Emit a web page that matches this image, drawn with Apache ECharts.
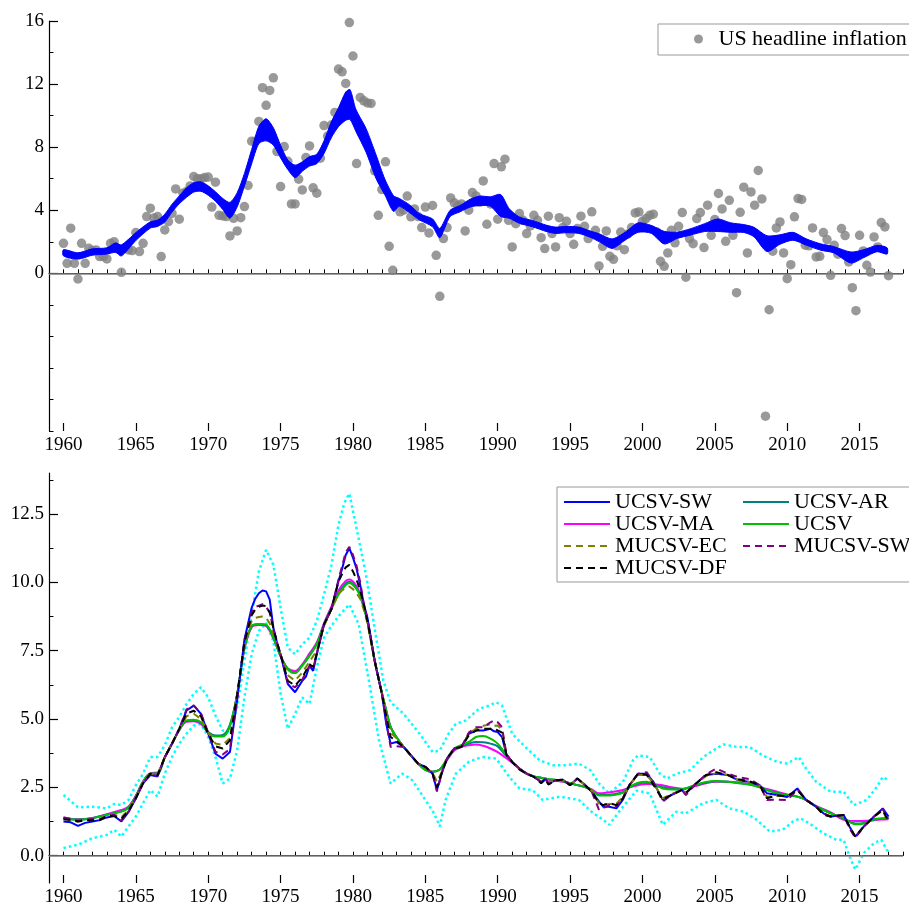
<!DOCTYPE html>
<html><head><meta charset="utf-8">
<script src="https://cdn.jsdelivr.net/npm/echarts@6/dist/echarts.min.js"></script>
<style>html,body{margin:0;padding:0;background:#fff}#c{width:909px;height:909px}</style>
</head><body><div id="c"></div>
<script>
// ---------- DATA ----------
const startYear = 1960; // first quarter of the inflation series
// US headline inflation, quarterly from 1960Q1
const inflation = [
1.9,0.63,2.86,0.63, -0.36,1.9,0.63,1.59, 1.44,1.48,1.06,1.06, 0.91,1.9,2.0,1.55,
0.06,1.59,1.48,1.44, 2.58,1.38,1.9,3.6, 4.13,3.5,3.6,1.06, 2.75,3.28,3.8,5.35,
3.43,5.08,5.18,5.54, 6.14,6.0,6.0,6.07, 6.1,4.2,5.78,3.68, 3.64,3.6,2.37,3.49,
2.69,3.53,4.23,5.57, 8.38,8.38,9.63,11.77, 10.65,11.6,12.4,7.72, 5.5,8.04,7.1,4.4,
4.4,5.97,5.29,7.34, 8.08,5.42,5.08,7.3, 9.37,8.7,9.4,10.2, 12.95,12.78,12.04,15.9,
13.78,6.96,11.15,10.94, 10.8,10.77,6.5,3.68, 5.31,7.07,1.71,0.19, 4.4,3.9,4.0,4.9,
3.58,4.08,3.6,2.9, 4.2,2.56,4.3,1.14, -1.46,2.2,2.9,4.78, 4.47,4.3,4.4,2.69,
4.0,5.12,4.91,4.5, 5.86,3.11,4.4,6.96, 3.43,6.75,7.24,3.36, 1.67,3.15,3.79,3.36,
2.52,3.0,3.68,3.36, 2.26,1.57,3.62,2.52, 1.67,3.53,2.9,3.3, 2.52,1.84,2.84,3.62,
2.98,2.2,3.9,2.73, 0.47,1.71,2.69,1.08, 0.89,1.74,2.62,1.5, 2.5,2.9,3.83,3.89,
3.3,3.47,3.68,3.75, 2.62,0.76,0.44,1.29, 2.73,1.93,2.98,3.85, -0.25,2.2,1.88,3.47,
3.85,1.63,4.32,2.41, 3.41,5.06,4.08,2.03, 4.63,2.41,-1.23,3.87, 5.46,1.29,5.16,4.32,
6.52,4.72,-9.06,-2.31, 1.4,2.88,3.26,1.29, -0.34,0.55,3.58,4.74, 4.68,1.78,1.74,2.88,
1.04,1.08,2.58,2.14, -0.13,1.78,1.21,2.84, 2.39,0.72,-0.91,-2.37, 2.41,1.42,0.51,0.08,
2.31,1.67,3.22,2.94, -0.15
];
// trend band: [year, lower, upper]
const trendBand = [
[1960,1.1,1.5],[1961,0.9,1.3],[1962,1.15,1.55],[1963,1.22,1.62],[1963.6,1.33,1.93],[1964,1.1,1.8],[1965,2.08,2.58],[1966,2.87,3.27],[1966.5,2.97,3.37],[1967,3.25,3.75],[1967.5,3.88,4.38],[1968,4.41,4.91],[1968.5,4.82,5.42],[1969,5.15,5.75],[1969.5,5.2,5.8],[1970,4.95,5.55],[1970.5,4.57,5.17],[1971,4.05,4.75],[1971.5,3.5,4.5],[1972,4.21,5.11],[1972.5,5.53,6.33],[1973,6.95,7.85],[1973.5,8.23,9.33],[1974,8.4,9.8],[1974.5,8.13,9.23],[1975,7.32,8.12],[1975.5,6.58,7.18],[1976,6.06,6.86],[1976.5,6.47,7.07],[1977,6.8,7.4],[1977.5,6.95,7.55],[1978,7.6,8.4],[1978.5,8.6,9.6],[1979,9.3,10.5],[1979.5,9.7,11.5],[1979.8,9.75,11.65],[1980.2,9.0,10.4],[1980.9,7.69,9.19],[1981.6,6.0,7.5],[1982.2,4.98,5.98],[1982.8,3.92,4.92],[1983.2,4.25,4.75],[1983.9,3.85,4.35],[1984.6,3.38,3.78],[1985.5,2.95,3.45],[1986,2.25,2.85],[1986.7,3.59,3.99],[1987.4,3.9,4.3],[1988.1,4.2,4.7],[1988.75,4.3,4.9],[1989.5,4.25,4.85],[1990.2,3.6,5.0],[1990.8,3.49,4.09],[1991.5,3.17,3.57],[1992.4,2.95,3.35],[1993.4,2.64,3.04],[1994,2.53,2.93],[1994.7,2.57,2.97],[1995.6,2.53,2.93],[1996.4,2.28,2.68],[1997,2.01,2.51],[1997.9,1.58,2.18],[1998.8,2.1,2.6],[1999.7,2.6,3.2],[2000.6,2.54,3.04],[2001.5,1.86,2.66],[2002.4,2.21,2.61],[2003.3,2.42,2.82],[2004.3,2.65,3.15],[2005.2,2.65,3.45],[2006.1,2.6,3.2],[2007,2.59,3.09],[2007.7,2.32,2.92],[2008.6,1.38,2.38],[2009.5,1.84,2.44],[2010.4,2.1,2.6],[2011.3,1.79,2.19],[2012.3,1.47,1.87],[2013.2,1.3,1.7],[2014.4,0.65,1.35],[2015.3,1.0,1.5],[2016.2,1.37,1.77],[2016.9,1.22,1.62]
];
const ucsvSW = [[1960,1.25],[1960.5,1.22],[1961,1.09],[1961.5,1.2],[1962,1.25],[1962.5,1.3],[1963,1.4],[1963.5,1.45],[1964,1.25],[1964.5,1.6],[1965,2.1],[1965.5,2.65],[1966,2.95],[1966.5,2.9],[1967,3.6],[1967.5,4.1],[1968,4.64],[1968.5,5.31],[1969,5.49],[1969.5,5.19],[1970,4.46],[1970.5,3.73],[1971,3.55],[1971.5,3.79],[1972,5.7],[1972.5,7.9],[1973,9.07],[1973.25,9.4],[1973.5,9.6],[1973.75,9.7],[1974,9.67],[1974.25,9.37],[1974.5,8.34],[1974.75,7.8],[1975,7.35],[1975.5,6.28],[1976,5.98],[1976.5,6.4],[1976.75,6.55],[1977,6.95],[1977.25,6.76],[1977.5,7.37],[1978,8.46],[1978.5,9.0],[1979,10.04],[1979.25,10.5],[1979.5,11.0],[1979.75,11.25],[1980,10.9],[1980.25,10.5],[1980.5,9.9],[1980.75,9.2],[1981,8.7],[1981.5,7.13],[1982,5.92],[1982.3,4.82],[1982.6,4.1],[1983,4.16],[1983.5,3.98],[1984,3.67],[1984.5,3.37],[1985,3.25],[1985.5,3.0],[1985.8,2.4],[1986.2,3.13],[1986.5,3.55],[1987,3.92],[1987.5,3.98],[1988,4.46],[1988.5,4.58],[1989,4.58],[1989.5,4.64],[1989.75,4.55],[1990,4.52],[1990.3,4.34],[1990.6,3.7],[1991,3.43],[1991.5,3.19],[1992,3.0],[1992.5,2.88],[1993,2.7],[1993.3,2.8],[1993.5,2.65],[1994,2.76],[1994.5,2.78],[1995,2.58],[1995.5,2.82],[1996,2.6],[1996.5,2.34],[1997,1.98],[1997.3,1.79],[1997.7,1.79],[1998.2,1.73],[1998.65,2.05],[1999.1,2.58],[1999.7,3.0],[2000.3,3.0],[2000.75,2.7],[2001.4,2.04],[2002,2.22],[2002.7,2.4],[2003,2.28],[2003.7,2.64],[2004.4,2.95],[2005.1,3.0],[2005.9,2.95],[2006.6,2.76],[2007.4,2.7],[2008.1,2.58],[2008.6,2.28],[2009.3,2.22],[2010,2.15],[2010.7,2.46],[2011.3,2.04],[2012,1.79],[2012.5,1.55],[2013,1.43],[2013.9,1.49],[2014.3,1.07],[2014.7,0.7],[2015.3,1.07],[2016,1.43],[2016.6,1.73],[2017,1.43]];
const mucsvDF = [[1960,1.33],[1960.5,1.3],[1961,1.25],[1961.5,1.3],[1962,1.3],[1962.5,1.3],[1963,1.45],[1963.5,1.45],[1964,1.35],[1964.5,1.65],[1965,2.1],[1965.5,2.65],[1966,3.0],[1966.5,2.95],[1967,3.6],[1967.5,4.1],[1968,4.64],[1968.5,5.2],[1969,5.3],[1969.5,5.1],[1970,4.45],[1970.5,4.0],[1971,3.92],[1971.5,4.22],[1972,5.9],[1972.5,7.8],[1973,8.8],[1973.25,9.0],[1973.5,9.1],[1973.75,9.15],[1974,9.13],[1974.25,8.9],[1974.5,8.34],[1974.75,7.8],[1975,7.37],[1975.5,6.4],[1976,6.22],[1976.5,6.52],[1977,7.0],[1977.25,6.9],[1977.5,7.4],[1978,8.46],[1978.5,9.0],[1979,10.04],[1979.25,10.3],[1979.5,10.55],[1979.75,10.64],[1980,10.4],[1980.25,10.1],[1980.5,9.7],[1980.75,9.2],[1981,8.58],[1981.5,7.13],[1982,5.92],[1982.3,5.1],[1982.6,4.34],[1983,4.2],[1983.5,3.98],[1984,3.67],[1984.5,3.37],[1985,3.25],[1985.5,3.0],[1985.8,2.5],[1986.2,3.13],[1986.5,3.55],[1987,3.92],[1987.5,3.98],[1988,4.4],[1988.5,4.58],[1989,4.64],[1989.5,4.64],[1989.75,4.65],[1990,4.58],[1990.3,4.5],[1990.6,3.7],[1991,3.43],[1991.5,3.15],[1992,3.0],[1992.5,2.88],[1993,2.65],[1993.3,2.8],[1993.5,2.6],[1994,2.76],[1994.5,2.78],[1995,2.58],[1995.5,2.82],[1996,2.6],[1996.5,2.34],[1997,1.92],[1997.3,1.85],[1997.7,1.92],[1998.2,1.85],[1998.65,2.1],[1999.1,2.58],[1999.7,3.0],[2000.3,2.95],[2000.75,2.6],[2001.4,2.06],[2002,2.22],[2002.7,2.4],[2003,2.3],[2003.7,2.64],[2004.4,2.95],[2005.1,3.05],[2005.9,2.95],[2006.6,2.8],[2007.4,2.72],[2008.1,2.58],[2008.6,2.1],[2009.3,2.2],[2010,2.18],[2010.7,2.4],[2011.3,2.04],[2012,1.79],[2012.5,1.5],[2013,1.43],[2013.9,1.49],[2014.3,1.07],[2014.7,0.7],[2015.3,1.07],[2016,1.43],[2016.6,1.67],[2017,1.25]];
const mucsvSW = [[1960,1.4],[1960.5,1.35],[1961,1.28],[1961.5,1.3],[1962,1.35],[1962.5,1.32],[1963,1.45],[1963.5,1.5],[1964,1.28],[1964.5,1.62],[1965,2.1],[1965.5,2.65],[1966,2.98],[1966.5,2.92],[1967,3.6],[1967.5,4.1],[1968,4.64],[1968.5,5.35],[1969,5.5],[1969.5,5.2],[1970,4.5],[1970.5,3.8],[1971,3.7],[1971.5,3.9],[1972,5.75],[1972.5,7.85],[1973,8.9],[1973.25,9.1],[1973.5,9.15],[1973.75,9.2],[1974,9.1],[1974.25,8.9],[1974.5,8.3],[1974.75,7.8],[1975,7.37],[1975.5,6.3],[1976,6.16],[1976.5,6.45],[1977,6.95],[1977.25,6.85],[1977.5,7.4],[1978,8.46],[1978.5,9.0],[1979,10.1],[1979.25,10.6],[1979.5,11.1],[1979.75,11.3],[1980,11.0],[1980.25,10.6],[1980.5,10.0],[1980.75,9.2],[1981,8.65],[1981.5,7.13],[1982,5.92],[1982.3,4.9],[1982.6,3.98],[1983,4.0],[1983.5,3.98],[1984,3.67],[1984.5,3.37],[1985,3.25],[1985.5,3.0],[1985.8,2.35],[1986.2,3.13],[1986.5,3.55],[1987,3.92],[1987.5,3.98],[1988,4.5],[1988.5,4.7],[1989,4.7],[1989.5,4.88],[1989.75,4.95],[1990,4.88],[1990.3,4.7],[1990.6,3.7],[1991,3.43],[1991.5,3.19],[1992,3.0],[1992.5,2.88],[1993,2.7],[1993.3,2.8],[1993.5,2.65],[1994,2.76],[1994.5,2.78],[1995,2.58],[1995.5,2.82],[1996,2.6],[1996.5,2.34],[1997,1.67],[1997.3,1.75],[1997.7,1.85],[1998.2,1.8],[1998.65,2.1],[1999.1,2.58],[1999.7,3.0],[2000.3,3.05],[2000.75,2.7],[2001.4,1.98],[2002,2.22],[2002.7,2.4],[2003,2.22],[2003.7,2.64],[2004.4,2.98],[2005.1,3.19],[2005.9,3.0],[2006.6,2.88],[2007.4,2.8],[2008.1,2.58],[2008.6,2.04],[2009.3,2.05],[2010,2.03],[2010.7,2.42],[2011.3,2.04],[2012,1.79],[2012.5,1.55],[2013,1.43],[2013.9,1.49],[2014.3,1.0],[2014.7,0.65],[2015.3,1.07],[2016,1.43],[2016.6,1.7],[2017,1.35]];
const mucsvEC = [[1960,1.35],[1960.5,1.32],[1961,1.25],[1961.5,1.3],[1962,1.32],[1962.5,1.35],[1963,1.45],[1963.5,1.5],[1964,1.4],[1964.5,1.68],[1965,2.12],[1965.5,2.68],[1966,3.0],[1966.5,2.97],[1967,3.6],[1967.5,4.1],[1968,4.62],[1968.5,5.1],[1969,5.19],[1969.5,5.0],[1970,4.5],[1970.5,4.1],[1971,4.05],[1971.5,4.3],[1972,5.9],[1972.5,7.7],[1973,8.6],[1973.25,8.7],[1973.5,8.73],[1973.75,8.75],[1974,8.7],[1974.25,8.5],[1974.5,8.1],[1974.75,7.7],[1975,7.37],[1975.5,6.6],[1976,6.4],[1976.5,6.7],[1977,7.1],[1977.5,7.5],[1978,8.4],[1978.5,9.0],[1979,9.6],[1979.25,9.7],[1979.5,9.8],[1979.75,9.85],[1980,9.75],[1980.25,9.6],[1980.5,9.4],[1980.75,9.0],[1981,8.5],[1981.5,7.13],[1982,5.95],[1982.3,5.2],[1982.6,4.5],[1983,4.3],[1983.5,3.98],[1984,3.67],[1984.5,3.37],[1985,3.2],[1985.5,3.05],[1985.8,2.7],[1986.2,3.13],[1986.5,3.55],[1987,3.92],[1987.5,3.98],[1988,4.45],[1988.5,4.65],[1989,4.75],[1989.5,4.8],[1989.75,4.75],[1990,4.76],[1990.3,4.6],[1990.6,3.72],[1991,3.43],[1991.5,3.19],[1992,3.0],[1992.5,2.88],[1993,2.72],[1993.5,2.68],[1994,2.76],[1994.5,2.76],[1995,2.62],[1995.5,2.78],[1996,2.6],[1996.5,2.38],[1997,1.9],[1997.5,1.88],[1998.2,1.9],[1998.65,2.15],[1999.1,2.58],[1999.7,2.95],[2000.3,2.95],[2000.75,2.65],[2001.4,2.1],[2002,2.25],[2002.7,2.4],[2003,2.3],[2003.7,2.62],[2004.4,2.92],[2005.1,3.02],[2005.9,2.95],[2006.6,2.78],[2007.4,2.7],[2008.1,2.56],[2008.6,2.15],[2009.3,2.2],[2010,2.18],[2010.7,2.4],[2011.3,2.04],[2012,1.79],[2012.5,1.52],[2013,1.45],[2013.9,1.47],[2014.3,1.05],[2014.7,0.68],[2015.3,1.07],[2016,1.43],[2016.6,1.65],[2017,1.2]];
const ucsvMA = [[1960,1.4],[1961,1.33],[1962,1.38],[1963,1.52],[1964,1.67],[1964.5,1.8],[1965,2.2],[1965.5,2.72],[1966,3.02],[1966.5,3.05],[1967,3.6],[1967.5,4.1],[1968,4.6],[1968.5,4.9],[1969,4.92],[1969.5,4.82],[1970,4.5],[1970.5,4.38],[1971,4.38],[1971.5,4.75],[1972,5.9],[1972.5,7.55],[1973,8.35],[1973.5,8.44],[1974,8.4],[1974.5,7.95],[1975,7.3],[1975.5,6.85],[1976,6.76],[1976.5,7.0],[1977,7.4],[1977.5,7.8],[1978,8.5],[1978.5,9.1],[1979,9.7],[1979.5,10.05],[1979.75,10.1],[1980.2,9.9],[1980.5,9.55],[1981,8.6],[1981.5,7.13],[1982,5.95],[1982.3,5.3],[1982.6,4.72],[1983,4.34],[1983.5,3.98],[1984,3.67],[1984.5,3.37],[1985,3.15],[1985.5,3.07],[1986,3.15],[1986.5,3.5],[1987,3.85],[1987.5,3.98],[1988,4.04],[1988.5,4.07],[1989,4.02],[1989.5,3.92],[1990,3.79],[1990.5,3.6],[1991,3.4],[1991.5,3.19],[1992,3.0],[1992.5,2.9],[1993,2.84],[1993.5,2.78],[1994,2.74],[1994.5,2.7],[1995,2.64],[1995.5,2.58],[1996,2.52],[1996.5,2.42],[1997,2.28],[1997.5,2.3],[1998,2.34],[1998.65,2.4],[1999.1,2.5],[1999.7,2.58],[2000.3,2.62],[2001,2.6],[2001.4,2.58],[2002,2.5],[2002.7,2.45],[2003,2.46],[2003.7,2.55],[2004.4,2.65],[2005.1,2.7],[2005.9,2.7],[2006.6,2.68],[2007.4,2.62],[2008.1,2.52],[2008.6,2.44],[2009.3,2.34],[2010,2.24],[2010.7,2.16],[2011.3,2.04],[2012,1.82],[2013,1.58],[2013.9,1.31],[2014.7,1.27],[2015.3,1.27],[2016,1.3],[2016.6,1.32],[2017,1.33]];
const ucsvAR = [[1960,1.38],[1961,1.32],[1962,1.37],[1963,1.5],[1964,1.62],[1964.5,1.76],[1965,2.17],[1965.5,2.7],[1966,3.0],[1966.5,3.02],[1967,3.6],[1967.5,4.1],[1968,4.6],[1968.5,4.93],[1969,4.95],[1969.5,4.86],[1970,4.52],[1970.5,4.4],[1971,4.42],[1971.5,4.8],[1972,5.9],[1972.5,7.6],[1973,8.4],[1973.5,8.47],[1974,8.43],[1974.5,7.97],[1975,7.3],[1975.5,6.83],[1976,6.7],[1976.5,6.97],[1977,7.33],[1977.5,7.75],[1978,8.46],[1978.5,9.05],[1979,9.6],[1979.5,9.95],[1979.75,10.02],[1980.2,9.82],[1980.5,9.5],[1981,8.58],[1981.5,7.13],[1982,5.95],[1982.3,5.3],[1982.6,4.7],[1983,4.34],[1983.5,3.98],[1984,3.67],[1984.5,3.37],[1985,3.14],[1985.5,3.07],[1986,3.15],[1986.5,3.53],[1987,3.9],[1987.5,4.0],[1988,4.1],[1988.5,4.16],[1989,4.15],[1989.5,4.1],[1990,4.0],[1990.5,3.7],[1991,3.42],[1991.5,3.19],[1992,3.0],[1992.5,2.9],[1993,2.85],[1993.5,2.8],[1994,2.77],[1994.5,2.72],[1995,2.65],[1995.5,2.58],[1996,2.52],[1996.5,2.4],[1997,2.22],[1997.5,2.22],[1998,2.25],[1998.65,2.32],[1999.1,2.5],[1999.7,2.64],[2000.3,2.68],[2001,2.56],[2001.4,2.5],[2002,2.45],[2002.7,2.43],[2003,2.46],[2003.7,2.58],[2004.4,2.68],[2005.1,2.72],[2005.9,2.7],[2006.6,2.66],[2007.4,2.6],[2008.1,2.5],[2008.6,2.4],[2009.3,2.3],[2010,2.22],[2010.7,2.16],[2011.3,2.04],[2012,1.8],[2013,1.56],[2013.9,1.35],[2014.7,1.18],[2015.3,1.2],[2016,1.32],[2016.6,1.36],[2017,1.38]];
const ucsv = [[1960,1.37],[1961,1.31],[1962,1.37],[1963,1.49],[1964,1.61],[1964.5,1.75],[1965,2.16],[1965.5,2.7],[1966,3.0],[1966.5,3.0],[1967,3.6],[1967.5,4.1],[1968,4.6],[1968.5,4.95],[1969,4.97],[1969.5,4.88],[1970,4.5],[1970.5,4.36],[1971,4.36],[1971.5,4.75],[1972,5.9],[1972.5,7.6],[1973,8.4],[1973.5,8.48],[1974,8.45],[1974.5,7.98],[1975,7.3],[1975.5,6.82],[1976,6.68],[1976.5,6.95],[1977,7.31],[1977.5,7.73],[1978,8.45],[1978.5,9.0],[1979,9.55],[1979.5,9.9],[1979.75,9.98],[1980.2,9.79],[1980.5,9.49],[1981,8.58],[1981.5,7.13],[1982,5.95],[1982.3,5.31],[1982.6,4.7],[1983,4.34],[1983.5,3.98],[1984,3.67],[1984.5,3.37],[1985,3.13],[1985.5,3.07],[1986,3.15],[1986.5,3.55],[1987,3.92],[1987.5,4.05],[1988,4.16],[1988.5,4.34],[1989,4.38],[1989.5,4.28],[1990,4.1],[1990.5,3.75],[1991,3.43],[1991.5,3.19],[1992,3.0],[1992.5,2.9],[1993,2.85],[1993.5,2.8],[1994,2.78],[1994.5,2.72],[1995,2.65],[1995.5,2.58],[1996,2.52],[1996.5,2.4],[1997,2.2],[1997.5,2.2],[1998,2.22],[1998.65,2.3],[1999.1,2.5],[1999.7,2.67],[2000.3,2.7],[2001,2.55],[2001.4,2.46],[2002,2.42],[2002.7,2.42],[2003,2.46],[2003.7,2.6],[2004.4,2.7],[2005.1,2.73],[2005.9,2.7],[2006.6,2.66],[2007.4,2.6],[2008.1,2.5],[2008.6,2.4],[2009.3,2.28],[2010,2.22],[2010.7,2.16],[2011.3,2.04],[2012,1.79],[2013,1.55],[2013.9,1.37],[2014.7,1.15],[2015.3,1.18],[2016,1.33],[2016.6,1.37],[2017,1.4]];
const bandUpper = [[1960,2.22],[1961,1.77],[1962,1.79],[1963,1.73],[1963.5,1.89],[1964,1.85],[1964.5,2.04],[1965,2.58],[1965.5,3.0],[1966,3.61],[1966.5,3.61],[1967,4.04],[1967.5,4.7],[1968,5.07],[1968.5,5.55],[1969,5.92],[1969.5,6.16],[1970,5.79],[1970.5,5.13],[1971,4.58],[1971.5,4.52],[1972,5.43],[1972.5,7.13],[1973,8.82],[1973.5,10.4],[1974,11.19],[1974.5,10.64],[1975,9.07],[1975.5,7.61],[1976,7.37],[1976.5,7.73],[1977,7.98],[1977.5,8.58],[1978,9.55],[1978.5,10.6],[1979,12.1],[1979.4,12.9],[1979.75,13.25],[1980.2,12.1],[1980.9,10.28],[1981.6,7.98],[1982.1,6.4],[1982.6,5.61],[1983.5,5.19],[1984.6,4.46],[1985.5,3.79],[1986,3.85],[1986.6,4.46],[1987.1,4.82],[1987.8,4.95],[1988.7,5.37],[1989.4,5.49],[1989.9,5.61],[1990.3,5.49],[1991,4.46],[1991.9,3.98],[1992.9,3.49],[1993.8,3.31],[1994.7,3.31],[1995.6,3.37],[1996.4,3.13],[1997,2.64],[1997.7,2.28],[1998.65,2.7],[1999.35,3.49],[1999.7,3.67],[2000.5,3.61],[2001.2,3.0],[2001.7,2.82],[2002.35,3.0],[2003.3,3.13],[2004.2,3.61],[2005.1,3.92],[2005.6,4.07],[2006.5,3.98],[2007.4,3.98],[2008.3,3.67],[2009.3,3.43],[2010,3.37],[2010.8,3.61],[2011.3,3.19],[2012,2.7],[2013,2.34],[2013.9,2.34],[2014.6,1.85],[2015.5,2.04],[2016.2,2.52],[2016.6,2.88],[2017,2.76]];
const bandLower = [[1960,0.28],[1961,0.4],[1962,0.64],[1963,0.76],[1963.5,0.95],[1964,0.7],[1964.5,1.07],[1965,1.43],[1965.5,1.92],[1966,2.4],[1966.5,2.16],[1967,3.0],[1967.5,3.61],[1968,4.1],[1968.5,4.46],[1969,4.76],[1969.5,4.82],[1970,4.34],[1970.5,3.61],[1971,2.64],[1971.5,2.82],[1972,3.85],[1972.5,5.79],[1973,7.37],[1973.5,8.22],[1974,8.52],[1974.5,7.85],[1975,5.92],[1975.5,4.64],[1976,5.19],[1976.5,5.79],[1977,5.55],[1977.5,6.88],[1978,7.98],[1978.5,8.4],[1979.1,8.82],[1979.75,9.19],[1980.4,8.46],[1981.1,6.4],[1981.8,4.22],[1982.6,2.64],[1983.4,3.0],[1984.1,2.76],[1985,2.04],[1985.6,1.55],[1986,1.07],[1986.4,2.04],[1987.1,3.0],[1988,3.43],[1988.9,3.61],[1989.9,3.55],[1990.8,2.88],[1991.5,2.46],[1992.4,2.4],[1993.1,2.04],[1994.3,2.16],[1995.6,2.04],[1996.6,1.55],[1997.3,1.31],[1997.7,1.13],[1998.65,1.79],[1999.6,2.38],[2000.5,2.28],[2001.4,1.13],[2002.35,1.61],[2003,1.55],[2004.2,1.92],[2005.1,2.04],[2006,1.73],[2007,1.61],[2007.9,1.31],[2008.8,0.88],[2009.7,0.95],[2010.4,1.25],[2010.9,1.37],[2011.5,1.19],[2012.5,0.82],[2013.4,0.58],[2013.9,0.58],[2014.3,-0.02],[2014.7,-0.51],[2015.3,0.1],[2016,0.46],[2016.5,0.58],[2017,0.1]];
// axis ranges and tick labels
const xRange = [1959, 2018];
const xLabelRange = [1960, 2015];   // labelled ticks every 5 years
const yTopRange = [-10, 16];
const yTopLabelRange = [0, 16];     // labelled ticks every 4
const yBotRange = [-1, 14];
const yBotLabelRange = [0, 12.5];   // labelled ticks every 2.5
const yBotMinorRange = [1.25, 13.75];

// ---------- LAYOUT ----------
const FONT = "'Liberation Serif','Times New Roman',serif";
const L = 49, R = 6, W = 909 - L - R;
const topT = 21, topH = 410, botT = 473, botH = 410;
const pxYr = W / (xRange[1] - xRange[0]);
const xMajLeft = L + (xLabelRange[0] - xRange[0]) * pxYr;
const xMajW = (xLabelRange[1] - xLabelRange[0]) * pxYr;
const pxTop = topH / (yTopRange[1] - yTopRange[0]);
const pxBot = botH / (yBotRange[1] - yBotRange[0]);
const subGrid = (rangeFull, rangeSub, t0, px) => ({left:L, right:R,
  top: t0 + (rangeFull[1] - rangeSub[1]) * px, height: (rangeSub[1] - rangeSub[0]) * px});

const chart = echarts.init(document.getElementById('c'), null, {renderer:'canvas'});
const lineBlack = {color:'#000', width:1.2};
const labelStyle = {fontFamily:FONT, fontSize:19, color:'#000'};
const hiddenAxis = (gi) => ({type:'value', gridIndex:gi, show:false, min:0, max:1});
const mainX = (gi) => ({type:'value', gridIndex:gi, position:'bottom', min:xRange[0], max:xRange[1], interval:1,
  axisLine:{show:true, lineStyle:lineBlack}, splitLine:{show:false}, axisLabel:{show:false},
  axisTick:{show:true, inside:true, length:4, lineStyle:{color:'#000', width:1}}});
const majorX = (gi) => ({type:'value', gridIndex:gi, position:'bottom', min:xLabelRange[0], max:xLabelRange[1], interval:5,
  axisLine:{show:false}, splitLine:{show:false},
  axisTick:{show:true, inside:true, length:8, lineStyle:{color:'#000', width:1.2}},
  axisLabel:Object.assign({show:true, margin:5, formatter:v=>String(v)}, labelStyle)});

const lineSer = (name, data, color, dashed, smooth) => ({
  name, type:'line', xAxisIndex:1, yAxisIndex:1, data, symbol:'none', showSymbol:false,
  smooth: smooth ? 0.35 : false, z:4,
  lineStyle:{color, width:2, type: dashed ? [7,5] : 'solid'}, itemStyle:{color}
});
const legendBase = {orient:'vertical', top:491, itemWidth:46, itemHeight:14, itemGap:0, padding:0,
  textStyle:{fontFamily:FONT, fontSize:22, color:'#000', lineHeight:21.7},
  itemStyle:{opacity:0}, selectedMode:false};

const option = {
  animation:false,
  backgroundColor:'#fff',
  grid:[
    {left:L, right:R, top:topT, height:topH},                       // 0 main top
    {left:L, right:R, top:botT, height:botH},                       // 1 main bottom
    subGrid(yTopRange, yTopLabelRange, topT, pxTop),                // 2 top y labels
    {left:xMajLeft, width:xMajW, top:topT, height:topH},            // 3 top x labels
    subGrid(yBotRange, yBotLabelRange, botT, pxBot),                // 4 bottom y labels
    subGrid(yBotRange, yBotMinorRange, botT, pxBot),                // 5 bottom y minor ticks
    {left:xMajLeft, width:xMajW, top:botT, height:botH}             // 6 bottom x labels
  ],
  xAxis:[mainX(0), mainX(1), hiddenAxis(2), majorX(3), hiddenAxis(4), hiddenAxis(5), majorX(6)],
  yAxis:[
    {type:'value', gridIndex:0, position:'left', min:yTopRange[0], max:yTopRange[1], interval:2,
     axisLine:{show:true, lineStyle:lineBlack}, splitLine:{show:false}, axisLabel:{show:false},
     axisTick:{show:true, inside:true, length:4.5, lineStyle:{color:'#000', width:1}}},
    {type:'value', gridIndex:1, position:'left', min:yBotRange[0], max:yBotRange[1],
     axisLine:{show:true, lineStyle:lineBlack}, splitLine:{show:false}, axisLabel:{show:false}, axisTick:{show:false}},
    {type:'value', gridIndex:2, position:'left', min:yTopLabelRange[0], max:yTopLabelRange[1], interval:4,
     axisLine:{show:false}, splitLine:{show:false},
     axisTick:{show:true, inside:true, length:9, lineStyle:{color:'#000', width:1.2}},
     axisLabel:Object.assign({show:true, margin:5}, labelStyle)},
    hiddenAxis(3),
    {type:'value', gridIndex:4, position:'left', min:yBotLabelRange[0], max:yBotLabelRange[1], interval:2.5,
     axisLine:{show:false}, splitLine:{show:false},
     axisTick:{show:true, inside:true, length:9, lineStyle:{color:'#000', width:1.2}},
     axisLabel:Object.assign({show:true, margin:5, formatter:v=>v.toFixed(1)}, labelStyle)},
    {type:'value', gridIndex:5, position:'left', min:yBotMinorRange[0], max:yBotMinorRange[1], interval:2.5,
     axisLine:{show:false}, splitLine:{show:false}, axisLabel:{show:false},
     axisTick:{show:true, inside:true, length:4.5, lineStyle:{color:'#000', width:1}}},
    hiddenAxis(6)
  ],
  legend:[
    {data:['US headline inflation'], left:658, top:24, orient:'horizontal',
      itemWidth:30, itemHeight:9, padding:[4,30,5,36], borderColor:'#999', borderWidth:1,
      textStyle:{fontFamily:FONT, fontSize:22, color:'#000'}, selectedMode:false},
    Object.assign({}, legendBase, {left:563, data:['UCSV-SW','UCSV-MA','MUCSV-EC','MUCSV-DF']}),
    Object.assign({}, legendBase, {left:742, data:['UCSV-AR','UCSV','MUCSV-SW']})
  ],
  graphic:[{type:'rect', shape:{x:557, y:487, width:380, height:95}, style:{fill:'none', stroke:'#999', lineWidth:1}, z:10, silent:true}],
  series:[
    {type:'line', xAxisIndex:0, yAxisIndex:0, data:[], z:1,
     markLine:{silent:true, symbol:'none', label:{show:false}, lineStyle:{color:'#808080', width:1.5, type:'solid'}, data:[{yAxis:0}]}},
    {name:'US headline inflation', type:'scatter', xAxisIndex:0, yAxisIndex:0, symbol:'circle', symbolSize:9.5, z:2,
     itemStyle:{color:'#808080'}, data: inflation.map((v,i)=>[startYear + i/4, v])},
    {type:'custom', xAxisIndex:0, yAxisIndex:0, z:3, data:[[trendBand[0][0], trendBand[0][1]]],
     renderItem:function(params, api){
       const pts = [];
       for (let i = 0; i < trendBand.length; i++) pts.push(api.coord([trendBand[i][0], trendBand[i][1]]));
       for (let i = trendBand.length - 1; i >= 0; i--) pts.push(api.coord([trendBand[i][0], trendBand[i][2]]));
       return {type:'polygon', shape:{points:pts, smooth:0.25}, style:{fill:'#0000ff', stroke:'#0000ff', lineWidth:1}};
     }},
    {type:'line', xAxisIndex:1, yAxisIndex:1, data:[], z:1,
     markLine:{silent:true, symbol:'none', label:{show:false}, lineStyle:{color:'#808080', width:1.5, type:'solid'}, data:[{yAxis:0}]}},
    {type:'line', xAxisIndex:1, yAxisIndex:1, data:bandUpper, symbol:'none', z:3,
     lineStyle:{color:'#00ffff', width:2.5, type:[2.5,3]}},
    {type:'line', xAxisIndex:1, yAxisIndex:1, data:bandLower, symbol:'none', z:3,
     lineStyle:{color:'#00ffff', width:2.5, type:[2.5,3]}},
    lineSer('UCSV-MA', ucsvMA, '#ff00ff', false, true),
    lineSer('UCSV-AR', ucsvAR, '#008080', false, true),
    lineSer('UCSV', ucsv, '#00c000', false, true),
    lineSer('UCSV-SW', ucsvSW, '#0000ff', false, false),
    lineSer('MUCSV-EC', mucsvEC, '#808000', true, false),
    lineSer('MUCSV-SW', mucsvSW, '#800080', true, false),
    lineSer('MUCSV-DF', mucsvDF, '#000000', true, false)
  ]
};
chart.setOption(option);
</script></body></html>
